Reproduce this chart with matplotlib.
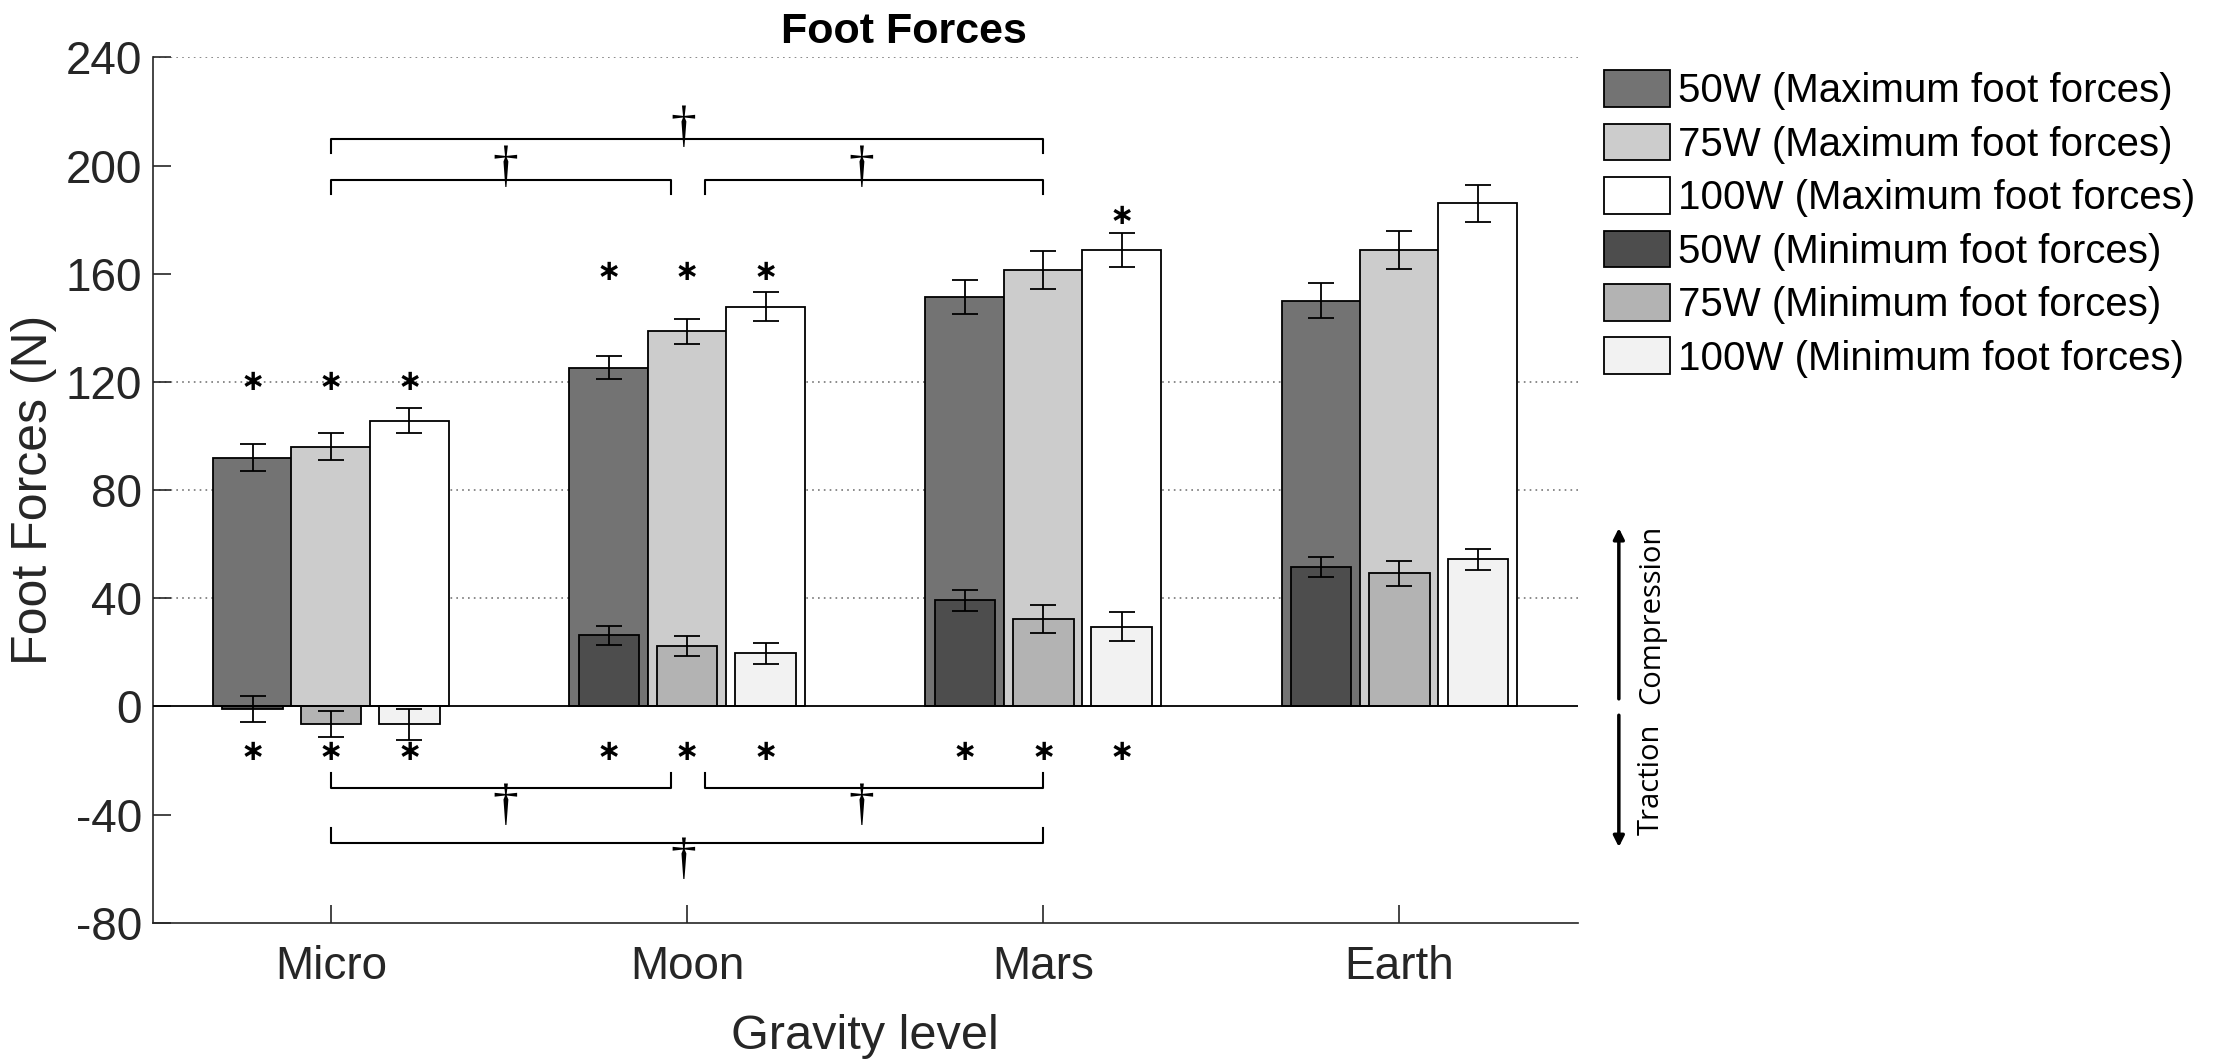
import numpy as np
import matplotlib
matplotlib.use('Agg')
import matplotlib.pyplot as plt
from matplotlib.patches import Patch

plt.rcParams['font.family'] = ['Liberation Sans', 'DejaVu Sans']
plt.rcParams['axes.unicode_minus'] = False

cats = ['Micro', 'Moon', 'Mars', 'Earth']
labels = ['50W (Maximum foot forces)', '75W (Maximum foot forces)', '100W (Maximum foot forces)',
          '50W (Minimum foot forces)', '75W (Minimum foot forces)', '100W (Minimum foot forces)']

# maximum foot forces (N)
max50 = [92.0, 125.2, 151.4, 150.0]
max50_err = [5.0, 4.2, 6.3, 6.5]
max75 = [96.0, 138.7, 161.4, 168.8]
max75_err = [5.0, 4.7, 6.9, 7.1]
max100 = [105.6, 147.8, 168.8, 186.0]
max100_err = [4.6, 5.3, 6.4, 6.9]
# minimum foot forces (N)
min50 = [-1.0, 26.3, 39.2, 51.4]
min50_err = [4.7, 3.4, 3.8, 3.7]
min75 = [-6.3, 22.4, 32.2, 49.2]
min75_err = [4.8, 3.8, 5.2, 4.6]
min100 = [-6.6, 19.6, 29.5, 54.4]
min100_err = [5.8, 3.9, 5.4, 3.8]

# significance markers: (group, bar, y)
stars = [(0, 0, 120), (0, 1, 120), (0, 2, 120),
         (1, 0, 160.5), (1, 1, 160.5), (1, 2, 160.5),
         (2, 2, 181.5),
         (0, 0, -17), (0, 1, -17), (0, 2, -17),
         (1, 0, -17), (1, 1, -17), (1, 2, -17),
         (2, 0, -17), (2, 1, -17), (2, 2, -17)]
# brackets: x0, x1, line y, leg end y, dagger x, dagger y
brackets = [(1, 3, 209.7, 204.7, 1.99, 213.7),
            (1, 1.955, 194.5, 189.4, 1.49, 198.8),
            (2.05, 3, 194.5, 189.4, 2.49, 198.8),
            (1, 1.955, -30.3, -24.7, 1.49, -37.0),
            (2.05, 3, -30.3, -24.7, 2.49, -37.0),
            (1, 3, -50.3, -45.0, 1.99, -57.0)]

max_cols = ['#737373', '#cccccc', '#ffffff']
min_cols = ['#4d4d4d', '#b3b3b3', '#f2f2f2']

fig = plt.figure(figsize=(22.2, 10.62), dpi=100)
ax = fig.add_axes([0.0689, 0.131, 0.6417, 0.815])

x = np.arange(1, len(cats) + 1)
off = [-0.22, 0, 0.22]
w_max = 0.222
w_min = 0.17

for vals in [40, 80, 120, 240]:
    ax.axhline(vals, color='#777777', lw=1.2, ls=(0, (1, 2.5)), zorder=0)

ekw = dict(ecolor='black', elinewidth=1.3, capsize=9.5, capthick=1.3)
for i, (v, e) in enumerate([(max50, max50_err), (max75, max75_err), (max100, max100_err)]):
    ax.bar(x + off[i], v, w_max, color=max_cols[i], edgecolor='black', lw=1.3, zorder=2)
    ax.errorbar(x + off[i], v, yerr=e, fmt='none', zorder=3, **ekw)
for i, (v, e) in enumerate([(min50, min50_err), (min75, min75_err), (min100, min100_err)]):
    ax.bar(x + off[i], v, w_min, color=min_cols[i], edgecolor='black', lw=1.3, zorder=4)
    ax.errorbar(x + off[i], v, yerr=e, fmt='none', zorder=5, **ekw)

ax.axhline(0, color='black', lw=1.3, zorder=6)

for g, b, y in stars:
    ax.text(x[g] + off[b], y, '\u2217', ha='center', va='center', fontsize=21,
            family='DejaVu Sans', fontweight='bold', zorder=7)

for x0, x1, y, yl, dx, dy in brackets:
    ax.plot([x0, x0, x1, x1], [yl, y, y, yl], color='black', lw=1.5, zorder=7)
    ax.text(dx, dy, '\u2020', ha='center', va='center', fontsize=37,
            family=['Liberation Serif', 'DejaVu Serif'], zorder=8)

ax.set_xlim(0.5, 4.5)
ax.set_ylim(-80, 240)
ax.set_yticks(np.arange(-80, 241, 40))
ax.set_xticks(x)
ax.set_xticklabels(cats)
ax.tick_params(direction='in', length=13, width=1.2, colors='#262626', labelsize=33)
ax.tick_params(axis='x', pad=16)
ax.tick_params(axis='y', pad=8)
for s in ['top', 'right']:
    ax.spines[s].set_visible(False)
for s in ['left', 'bottom']:
    ax.spines[s].set_linewidth(1.2)
    ax.spines[s].set_color('#262626')

ax.set_title('Foot Forces', fontsize=31, fontweight='bold', x=0.527, pad=10)
ax.set_xlabel('Gravity level', fontsize=35, color='#262626', labelpad=18)
ax.set_ylabel('Foot Forces (N)', fontsize=36, color='#262626', labelpad=6)

# compression / traction arrows
ax.annotate('', xy=(1.029, 67), xytext=(1.029, 1.8), xycoords=('axes fraction', 'data'),
            textcoords=('axes fraction', 'data'), annotation_clip=False,
            arrowprops=dict(arrowstyle='-|>', color='black', lw=2.5, mutation_scale=16))
ax.annotate('', xy=(1.029, -53), xytext=(1.029, -2.2), xycoords=('axes fraction', 'data'),
            textcoords=('axes fraction', 'data'), annotation_clip=False,
            arrowprops=dict(arrowstyle='-|>', color='black', lw=2.5, mutation_scale=16))
ax.text(1.052, 34, 'Compression', rotation=90, ha='center', va='center', fontsize=21,
        family='Open Sans', transform=ax.get_yaxis_transform(), clip_on=False)
ax.text(1.052, -27, 'Traction', rotation=90, ha='center', va='center', fontsize=21,
        family='Open Sans', transform=ax.get_yaxis_transform(), clip_on=False)

handles = [Patch(facecolor=c, edgecolor='black', lw=1.3) for c in max_cols + min_cols]
fig.legend(handles, labels, loc='upper left', bbox_to_anchor=(0.7225, 0.934),
           frameon=False, fontsize=29, handlelength=1.65, handleheight=1.03,
           handletextpad=0.18, labelspacing=0.33, borderpad=0, borderaxespad=0)

fig.savefig('out.png', dpi=100)
